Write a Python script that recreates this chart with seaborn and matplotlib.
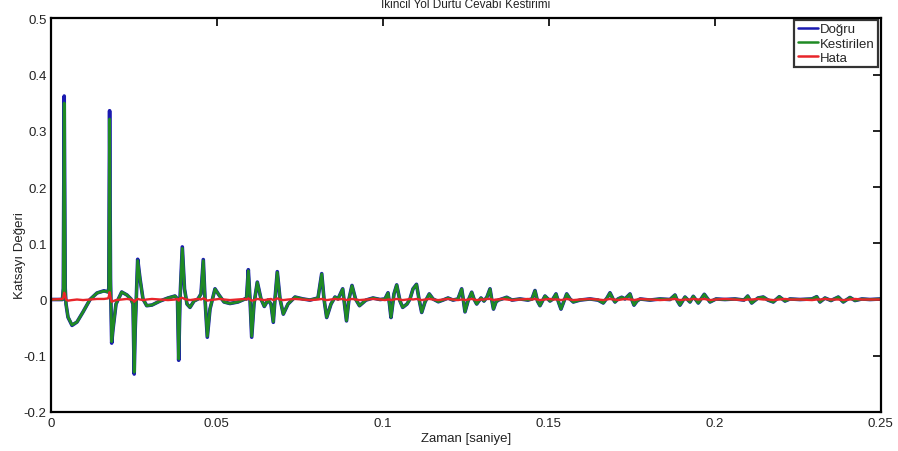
import matplotlib
matplotlib.use("Agg")
import matplotlib.pyplot as plt
import seaborn as sns
import pandas as pd
from matplotlib.ticker import FuncFormatter

# ---- data ----
zaman = [0, 0.00355, 0.0038, 0.00407, 0.00437, 0.00461, 0.00521, 0.00642, 0.00792, 0.00973,
         0.01184, 0.01395, 0.01605, 0.01726, 0.0175, 0.01774, 0.01801, 0.01837, 0.01876, 0.01967,
         0.02139, 0.02298, 0.02419, 0.02479, 0.02515, 0.02545, 0.0262, 0.0269, 0.0278, 0.02892,
         0.03051, 0.03292, 0.03533, 0.03744, 0.03819, 0.03855, 0.03895, 0.03964, 0.0403, 0.04105,
         0.04196, 0.04316, 0.04437, 0.04527, 0.04596, 0.04648, 0.04717, 0.04798, 0.04949, 0.05069,
         0.0522, 0.054, 0.05641, 0.05852, 0.05897, 0.05952, 0.06003, 0.06054, 0.06123, 0.06223,
         0.06334, 0.06434, 0.06545, 0.06635, 0.06705, 0.06756, 0.06825, 0.06907, 0.07006, 0.07148,
         0.07358, 0.07599, 0.0781, 0.08051, 0.08163, 0.08232, 0.08313, 0.08443, 0.08563, 0.08654,
         0.08795, 0.08849, 0.0891, 0.08985, 0.09075, 0.09181, 0.09301, 0.09497, 0.09708, 0.09919,
         0.10069, 0.1016, 0.10205, 0.1025, 0.1034, 0.10422, 0.10521, 0.10602, 0.10732, 0.10822,
         0.10913, 0.11018, 0.11093, 0.11175, 0.11274, 0.11403, 0.11515, 0.11675, 0.11816, 0.11967,
         0.12117, 0.12268, 0.12379, 0.12434, 0.12479, 0.12569, 0.12681, 0.1275, 0.12831, 0.12961,
         0.13051, 0.13141, 0.13232, 0.13292, 0.13337, 0.13412, 0.13482, 0.13593, 0.13735, 0.13894,
         0.14135, 0.14376, 0.14497, 0.14587, 0.14662, 0.14738, 0.14888, 0.15039, 0.15129, 0.1522,
         0.15295, 0.1537, 0.15461, 0.15542, 0.15641, 0.15741, 0.15943, 0.16244, 0.16485, 0.16644,
         0.16756, 0.16846, 0.16937, 0.16997, 0.17087, 0.17199, 0.17298, 0.17449, 0.17509, 0.17569,
         0.17659, 0.1775, 0.18051, 0.18352, 0.18653, 0.18804, 0.18879, 0.18955, 0.19105, 0.19256,
         0.19355, 0.19506, 0.19686, 0.19858, 0.20039, 0.2031, 0.20611, 0.20882, 0.20994, 0.21114,
         0.21304, 0.21464, 0.21605, 0.21765, 0.21945, 0.22117, 0.22268, 0.22569, 0.2293, 0.23072,
         0.23171, 0.23322, 0.23503, 0.23723, 0.23873, 0.24075, 0.24226, 0.24436, 0.24677, 0.25]

kestirilen = [0, 0, 0.0187, 0.3494, 0.0187, -0.008, -0.0311, -0.0453, -0.04, -0.0222,
              0, 0.0116, 0.0151, 0.0133, 0.0187, 0.321, 0.0364, -0.075, -0.0525, -0.008,
              0.0133, 0.008, 0.0009, -0.008, -0.1294, -0.0525, 0.0693, 0.0364, 0.0009, -0.011,
              -0.0098, -0.0027, 0.0027, 0.0062, 0.0009, -0.1058, 0.0009, 0.091, 0.0187, -0.008,
              -0.0139, -0.0027, 0.0009, 0.0098, 0.069, 0.0009, -0.0654, -0.0169, 0.0187, 0.008,
              -0.0044, -0.0071, -0.0044, 0.0009, 0.0009, 0.0512, 0.0009, -0.0654, -0.008, 0.0306,
              0.0009, -0.0121, -0.0009, -0.008, -0.0395, 0.0009, 0.0484, 0.0009, -0.0258, -0.008,
              0.0044, 0.0009, -0.0009, 0.0027, 0.0453, 0.0009, -0.0316, -0.008, 0.0044, 0.0009,
              0.0187, -0.008, -0.0377, 0.0009, 0.0245, 0.0009, -0.011, -0.0009, 0.0027, 0.0,
              0.0009, 0.0116, -0.008, -0.0316, 0.0098, 0.0258, -0.0027, -0.0139, -0.008, 0.0009,
              0.0187, 0.0267, 0.0009, -0.0228, -0.0044, 0.0098, 0.0009, -0.0039, -0.0009, 0.0027,
              -0.0009, 0.0009, 0.0187, -0.0027, -0.0217, -0.0027, 0.0128, 0.0009, -0.008, 0.0027,
              -0.0027, 0.0044, 0.0187, -0.0027, -0.0169, -0.0044, -0.0009, 0.0009, 0.0039, -0.0009,
              0.0009, -0.0009, 0.0009, 0.0156, -0.0027, -0.011, 0.0062, -0.0027, 0.0009, 0.0098,
              -0.0044, -0.0169, -0.0027, 0.0098, 0.0009, -0.0044, -0.0009, 0.0009, -0.0009, -0.0062,
              0.0027, 0.0116, 0.0009, -0.0044, 0.0009, 0.0039, 0.0009, 0.0098, -0.0009, -0.0098,
              -0.0027, 0.0009, -0.0009, 0.0009, 0.0, 0.008, -0.0027, -0.0098, 0.0044, -0.0044,
              0.0057, -0.0062, 0.0092, -0.0044, 0.0009, 0.0, 0.0009, -0.0009, 0.0062, -0.0062,
              0.0027, 0.0044, -0.0009, -0.0044, 0.005, -0.0027, 0.0009, 0.0, 0.0009, 0.005,
              -0.0044, 0.0027, -0.0018, 0.0044, -0.0044, 0.0036, -0.0018, 0.0009, 0.0, 0.0009]

dogru = [0, 0, 0.02, 0.3618, 0.02, -0.008, -0.0315, -0.046, -0.04, -0.0222,
         0, 0.0116, 0.0155, 0.0135, 0.02, 0.3357, 0.038, -0.0775, -0.053, -0.008,
         0.0133, 0.008, 0.0009, -0.008, -0.1325, -0.053, 0.0715, 0.037, 0.001, -0.011,
         -0.0098, -0.0027, 0.0027, 0.0062, 0.001, -0.108, 0.001, 0.0935, 0.019, -0.008,
         -0.014, -0.0027, 0.001, 0.01, 0.071, 0.001, -0.067, -0.017, 0.019, 0.008,
         -0.0044, -0.0071, -0.0044, 0.001, 0.001, 0.053, 0.001, -0.067, -0.008, 0.031,
         0.001, -0.0123, -0.001, -0.008, -0.0405, 0.001, 0.0495, 0.001, -0.026, -0.008,
         0.0044, 0.001, -0.001, 0.0027, 0.046, 0.001, -0.032, -0.008, 0.0044, 0.001,
         0.019, -0.008, -0.038, 0.001, 0.025, 0.001, -0.011, -0.001, 0.0027, 0.0,
         0.001, 0.012, -0.008, -0.032, 0.01, 0.026, -0.0027, -0.014, -0.008, 0.001,
         0.019, 0.027, 0.001, -0.023, -0.0044, 0.01, 0.001, -0.004, -0.001, 0.0027,
         -0.001, 0.001, 0.019, -0.0027, -0.022, -0.0027, 0.013, 0.001, -0.008, 0.0027,
         -0.0027, 0.0044, 0.019, -0.0027, -0.017, -0.0044, -0.001, 0.001, 0.004, -0.001,
         0.001, -0.001, 0.001, 0.016, -0.0027, -0.011, 0.0062, -0.0027, 0.001, 0.01,
         -0.0044, -0.017, -0.0027, 0.01, 0.001, -0.0044, -0.001, 0.001, -0.001, -0.0062,
         0.0027, 0.012, 0.001, -0.0044, 0.001, 0.004, 0.001, 0.01, -0.001, -0.01,
         -0.0027, 0.001, -0.001, 0.001, 0.0, 0.008, -0.0027, -0.01, 0.0044, -0.0044,
         0.0057, -0.0062, 0.0093, -0.0044, 0.001, 0.0, 0.001, -0.001, 0.0062, -0.0062,
         0.0027, 0.0044, -0.001, -0.0044, 0.005, -0.0027, 0.001, 0.0, 0.001, 0.005,
         -0.0044, 0.0027, -0.0018, 0.0044, -0.0044, 0.0036, -0.0018, 0.001, 0.0, 0.001]

hata = [0, 0.001, 0.004, 0.012, 0.006, 0.0, -0.002, -0.001, 0.0, -0.001,
        0.0, 0.001, 0.001, 0.002, 0.005, 0.013, 0.004, -0.004, -0.003, -0.001,
        0.0, 0.001, 0.0, -0.001, -0.004, -0.002, 0.001, 0.0, -0.001, 0.0,
        0.001, 0.0, -0.001, 0.0, 0.001, -0.002, 0.002, 0.003, 0.001, 0.0,
        -0.001, 0.0, 0.001, 0.0, 0.002, 0.001, -0.002, -0.001, 0.0, 0.001,
        0.0, -0.001, 0.0, 0.001, 0.0, 0.002, 0.0, -0.002, -0.001, 0.001,
        0.0, -0.001, 0.0, 0.001, -0.001, 0.0, 0.002, 0.0, -0.001, 0.0,
        0.001, 0.0, -0.001, 0.0, 0.001, 0.0, -0.001, 0.0, 0.001, 0.0,
        0.001, 0.0, -0.001, 0.0, 0.001, 0.0, -0.001, 0.0, 0.001, 0.0,
        -0.001, 0.0, 0.0, -0.001, 0.0, 0.001, 0.0, -0.001, 0.0, 0.001,
        0.0, 0.001, 0.0, -0.001, 0.0, 0.001, 0.0, -0.001, 0.0, 0.001,
        0.0, -0.001, 0.0, 0.0, -0.001, 0.0, 0.001, 0.0, -0.001, 0.0,
        0.0, 0.001, 0.001, 0.0, -0.001, 0.0, 0.0, 0.001, 0.0, -0.001,
        0.0, 0.001, 0.0, 0.001, 0.0, -0.001, 0.0, 0.001, 0.0, 0.0,
        0.0, -0.001, 0.0, 0.001, 0.0, -0.001, 0.0, 0.001, 0.0, -0.001,
        0.0, 0.001, 0.0, 0.0, -0.001, 0.0, 0.001, 0.0, 0.0, -0.001,
        0.0, 0.001, 0.0, -0.001, 0.0, 0.001, 0.0, -0.001, 0.0, 0.0,
        0.001, 0.0, 0.001, -0.001, 0.0, 0.001, 0.0, -0.001, 0.0, 0.0,
        0.001, 0.0, 0.0, -0.001, 0.0, 0.001, 0.0, 0.0, -0.001, 0.0,
        0.0, 0.001, 0.0, 0.0, -0.001, 0.0, 0.001, 0.0, 0.0, 0.0]

seri_adlari = ["Doğru", "Kestirilen", "Hata"]
x_ticks = [0, 0.05, 0.1, 0.15, 0.2, 0.25]
y_ticks = [-0.2, -0.1, 0, 0.1, 0.2, 0.3, 0.4, 0.5]

baslik = "İkincil Yol Dürtü Cevabı Kestirimi"
x_etiket = "Zaman [saniye]"
y_etiket = "Katsayı Değeri"

# ---- style ----
sns.set_theme(style="white")
plt.rcParams["font.family"] = ["Liberation Sans Narrow", "Liberation Sans", "DejaVu Sans"]
plt.rcParams["axes.unicode_minus"] = False

df = pd.DataFrame({"t": zaman, "dogru": dogru, "kest": kestirilen, "hata": hata})

fig = plt.figure(figsize=(8.98, 4.52), dpi=100)
ax = fig.add_axes([50.7 / 898, (452 - 413) / 452, 830 / 898, (413 - 19.3) / 452])

sns.lineplot(data=df, x="t", y="dogru", ax=ax, color="#1a1ab0", linewidth=2.6,
             estimator=None, sort=False, label=seri_adlari[0],
             solid_joinstyle="round", solid_capstyle="round")
sns.lineplot(data=df, x="t", y="kest", ax=ax, color="#1f8a24", linewidth=2.0,
             estimator=None, sort=False, label=seri_adlari[1],
             solid_joinstyle="round", solid_capstyle="round")
sns.lineplot(data=df, x="t", y="hata", ax=ax, color="#e8252a", linewidth=1.7,
             estimator=None, sort=False, label=seri_adlari[2],
             solid_joinstyle="round", solid_capstyle="round")

ax.set_xlim(0, 0.25)
ax.set_ylim(-0.2, 0.5)
ax.set_xticks(x_ticks)
ax.set_yticks(y_ticks)
fmt = FuncFormatter(lambda v, p: "%g" % round(v, 4))
ax.xaxis.set_major_formatter(fmt)
ax.yaxis.set_major_formatter(fmt)

ax.tick_params(direction="in", length=6, width=1.4, top=True, right=True,
               labelsize=9.5, colors="#222222", pad=3)
ax.tick_params(axis="x", pad=3.5)
for s in ax.spines.values():
    s.set_visible(True)
    s.set_color("black")
    s.set_linewidth(1.6)

ax.set_xlabel(x_etiket, fontsize=9.5, color="#222222", labelpad=2)
ax.set_ylabel(y_etiket, fontsize=9.5, color="#222222", labelpad=4)
ax.yaxis.set_label_coords(-0.030, 0.40)

fig.text(465.7 / 898, 1 - 5 / 452, baslik, ha="center", va="center",
         fontsize=8.5, color="#222222")

leg = ax.legend(loc="upper right", bbox_to_anchor=(0.997, 0.996), borderaxespad=0,
                fontsize=9.5, handlelength=1.5, handletextpad=0.2, labelspacing=0.15,
                borderpad=0.25, frameon=True, fancybox=False, edgecolor="black")
leg.get_frame().set_linewidth(1.6)
for h in leg.get_lines():
    h.set_linewidth(1.8)

fig.savefig("out.png", dpi=100, facecolor="white")
